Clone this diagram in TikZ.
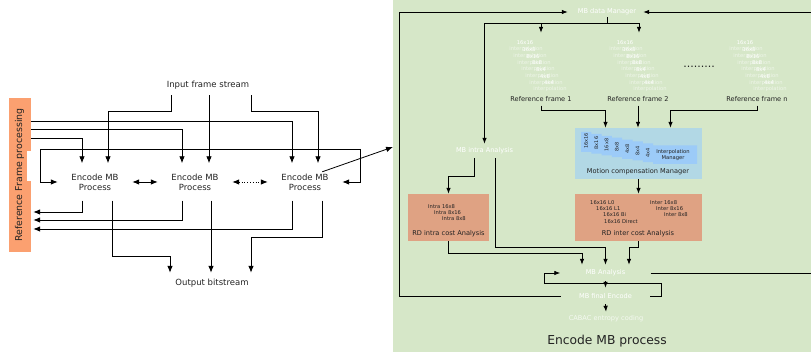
\documentclass[tikz,border=0pt]{standalone}
\usepackage{fontspec}
\setmainfont{DejaVu Sans}
\usetikzlibrary{arrows.meta}
\definecolor{panelgreen}{HTML}{D6E7C8}
\definecolor{leftorange}{HTML}{FBA070}
\definecolor{rdsalmon}{HTML}{DFA283}
\definecolor{mcouter}{HTML}{B2D8E5}
\definecolor{mcinner}{HTML}{9CCBF8}
\definecolor{ink}{HTML}{222222}
\newcommand\myfs[2]{\fontsize{#1}{#2}\selectfont}
\tikzset{
  arr/.style={-{Latex[length=6pt,width=4.5pt]}, line width=0.8pt},
  larr/.style={-{Latex[length=7pt,width=5.5pt]}, line width=0.8pt},
  dblarr/.style={{Latex[length=7pt,width=5.5pt]}-{Latex[length=7pt,width=5.5pt]}, line width=0.8pt},
  ln/.style={line width=0.8pt},
  ltxt/.style={font={\myfs{8.5}{10}}, text=ink, inner sep=0pt},
  enc/.style={ltxt, align=center, minimum width=74pt, minimum height=37pt},
  wtxt/.style={font={\myfs{6.6}{7}}, text=white, inner sep=0pt},
  btxt/.style={font={\myfs{6.6}{7}}, text=ink, inner sep=0pt},
  smalltxt/.style={font={\myfs{5.2}{6}}, text=ink, inner sep=0pt},
  stk/.style={font={\myfs{5.2}{6}}, text=white, inner sep=0pt},
  rdbox/.style={fill=rdsalmon, inner sep=0pt},
}
\begin{document}
\begin{tikzpicture}[x=1pt,y=-1pt]
\useasboundingbox (0,0) rectangle (811,352);

% ---------------- left part ----------------
\node[ltxt, minimum height=20pt] (ifs) at (208,85) {Input frame stream};
\node[enc] (e1) at (95,182) {Encode MB\\Process};
\node[enc] (e2) at (195,182) {Encode MB\\Process};
\node[enc] (e3) at (305,182) {Encode MB\\Process};
\node[ltxt, minimum height=20pt] (ob) at (212,283) {Output bitstream};
\node[fill=leftorange, minimum width=22pt, minimum height=154pt, inner sep=0pt] (rfp) at (20,175) {};
\fill[white] (27,151) rectangle (31.5,181);
\node[font={\myfs{9.4}{10}}, text=ink, rotate=90, inner sep=0pt] (rfpt) at (19.5,175) {Reference Frame processing};

% inputs
\draw[larr] ([xshift=-37pt]ifs.south) -- ++(0,16) -| ([xshift=13pt]e1.north);
\draw[larr] ([xshift=1pt]ifs.south) -- ([xshift=14pt]e2.north);
\draw[larr] ([xshift=43pt]ifs.south) -- ++(0,16) -| ([xshift=13pt]e3.north);
\draw[larr] (rfp.east |- 0,121) -| ([xshift=-13pt]e3.north);
\draw[larr] (rfp.east |- 0,129) -| ([xshift=-13pt]e2.north);
\draw[larr] (rfp.east |- 0,138) -| ([xshift=-13pt]e1.north);
% feedback loop
\coordinate (fb) at (360,149);
\draw[larr] (fb) |- (e3.east);
\draw[larr] (fb) -- (40,149) |- (e1.west);
% between processes
\draw[dblarr] (e1.east) -- (e2.west);
\draw[dblarr, dotted] (e2.east) -- (e3.west);
% outputs to reference frame processing
\draw[larr] ([xshift=-13pt]e1.south) |- ([xshift=2pt]rfp.east |- 0,212);
\draw[larr] ([xshift=-13pt]e2.south) |- ([xshift=2pt]rfp.east |- 0,220);
\draw[larr] ([xshift=-13pt]e3.south) |- ([xshift=2pt]rfp.east |- 0,229);
% outputs to bitstream
\draw[larr] ([xshift=17pt]e1.south) |- ([xshift=-42pt]ob.north |- 0,256) -- ([xshift=-42pt]ob.north);
\draw[larr] ([xshift=16pt]e2.south) -- ([xshift=-1pt]ob.north);
\draw[larr] ([xshift=17pt]e3.south) |- ([xshift=39pt]ob.north |- 0,237) -- ([xshift=39pt]ob.north);

% ---------------- right panel ----------------
\node[fill=panelgreen, minimum width=418pt, minimum height=352pt, inner sep=0pt, anchor=north west] (panel) at (393,0) {};
\draw[larr] ([xshift=-20pt,yshift=-8.5pt]e3.north east) -- (panel.west |- 0,147);

\node[wtxt, minimum width=75pt, minimum height=10pt] (mbdm) at (605.5,12) {\hspace{3pt}MB data Manager};

% reference frame stacks (invisible holders)
\node[minimum width=44pt, minimum height=62pt, inner sep=0pt] (rs1) at (541,64) {};
\node[minimum width=44pt, minimum height=62pt, inner sep=0pt] (rs2) at (639,64) {};
\node[minimum width=44pt, minimum height=62pt, inner sep=0pt] (rsn) at (758,64) {};
\foreach \bx [count=\j] in {525,625,745} {
  \foreach \s [count=\k from 0] in {16x16,16x8,8x16,8x8,8x4,4x8,4x4} {
    \node[stk] (sz\j-\k) at ({\bx+4*\k},{43+6.67*\k}) {\s};
    \node[stk, opacity=0.6] (ip\j-\k) at ({\bx+1+4*\k},{49.5+6.67*\k}) {interpolation};
  }
}
\node[font={\myfs{11}{12}}, text=ink, inner sep=0pt] (dots) at (699,67) {.........};

\node[btxt, minimum height=13pt] (rf1) at (541,99) {Reference frame 1};
\node[btxt, minimum height=13pt] (rf2) at (638,99) {Reference frame 2};
\node[btxt, minimum height=13pt] (rfn) at (757,99) {Reference frame n};

% motion compensation manager
\node[fill=mcouter, minimum width=127pt, minimum height=51pt, inner sep=0pt] (mc) at (638.5,153.5) {};
\fill[mcinner] (581,132) -- (591.3,132) -- (591.3,133.9) -- (601.6,133.9) -- (601.6,135.8) -- (611.9,135.8)
  -- (611.9,137.7) -- (622.2,137.7) -- (622.2,139.6) -- (632.5,139.6) -- (632.5,141.5) -- (642.8,141.5)
  -- (642.8,143.4) -- (653.1,143.4) -- (653.1,145.3) -- (697,145.3) -- (697,164) -- (653.1,164)
  -- (653.1,162.2) -- (642.8,162.2) -- (642.8,160.5) -- (632.5,160.5) -- (632.5,158.8) -- (622.2,158.8)
  -- (622.2,157.1) -- (611.9,157.1) -- (611.9,155.4) -- (601.6,155.4) -- (601.6,153.7) -- (591.3,153.7)
  -- (591.3,152) -- (581,152) -- cycle;
\foreach \s [count=\k from 0] in {16x16,8x16,16x8,8x8,4x8,8x4,4x4} {
  \node[smalltxt, font={\myfs{5}{6}}, rotate=90] (mcs\k) at ({586+10.3*\k},{141+2*\k}) {\s};
}
\node[smalltxt, align=center] (im) at (673,155) {Interpolation\\Manager};
\node[btxt] (mct) at (638,172) {Motion compensation Manager};

% RD inter
\node[rdbox, minimum width=127pt, minimum height=47pt] (rdi) at (638.5,217.5) {};
\node[smalltxt, anchor=west] (t1) at (590,203) {16x16 L0};
\node[smalltxt, anchor=west] (t2) at (596,209) {16x16 L1};
\node[smalltxt, anchor=west] (t3) at (603,214.5) {16x16 Bi};
\node[smalltxt, anchor=west] (t4) at (604,221.5) {16x16 Direct};
\node[smalltxt, anchor=west] (t5) at (650,203) {Inter 16x8};
\node[smalltxt, anchor=west] (t6) at (656,209) {Inter 8x16};
\node[smalltxt, anchor=west] (t7) at (664,215) {Inter 8x8};
\node[btxt] (rdit) at (638,234) {RD inter cost Analysis};

% RD intra
\node[rdbox, minimum width=81pt, minimum height=47pt] (rda) at (448.5,217.5) {};
\node[smalltxt, anchor=west] (a1) at (428,207) {Intra 16x8};
\node[smalltxt, anchor=west] (a2) at (434,213) {Intra 8x16};
\node[smalltxt, anchor=west] (a3) at (442,219) {Intra 8x8};
\node[btxt] (rdat) at (448.5,234) {RD intra cost Analysis};

\node[wtxt, minimum height=14pt] (mbia) at (484.5,151) {MB intra Analysis};
\node[wtxt, minimum width=90pt, minimum height=16pt] (mban) at (605.5,273) {MB Analysis};
\node[wtxt, minimum width=89pt, minimum height=16pt] (mbfe) at (605.5,296) {MB final Encode};
\node[wtxt, minimum height=14pt, opacity=0.75] (cabac) at (606,319) {CABAC entropy coding};
\node[font={\myfs{12.3}{13}}, text=ink, inner sep=0pt] (title) at (607,341) {Encode MB process};

% right panel connectors (the right-hand riser runs just outside the page)
\draw[arr] (mbfe.west) -| (399,12) -- (mbdm.west);
\draw[arr] (mban.east) -- (814,273) -- (814,12) -- (mbdm.east);
\draw[ln] ([xshift=1.5pt]mbdm.south) -- ++(0,6) coordinate (j1);
\draw[arr] (j1) -| (rs1.north);
\draw[arr] (j1) -| (rs2.north);
\draw[arr] (rs1.north |- j1) -| (mbia.north);
\draw[arr] (rf1.south) -- ++(0,5) -| ([xshift=-33pt]mc.north);
\draw[arr] (rf2.south) -- (rf2.south |- mc.north);
\draw[arr] (rfn.south) -- ++(0,5) -| ([xshift=32pt]mc.north);
\draw[arr] (mc.south) -- (rdi.north);
\draw[arr] ([xshift=-10pt]mbia.south) -- ++(0,18) -| (rda.north);
\draw[arr] ([xshift=11pt]mbia.south) |- (mban.north |- 0,247) -- (mban.north);
\draw[arr] (rda.south) -- ++(0,12) -| ([xshift=-23.5pt]mban.north);
\draw[arr] (rdi.south) -- ++(0,6) -| ([xshift=23.5pt]mban.north);
\draw[arr] (mban.south) -- (mbfe.north);
\draw[arr] (mbfe.east) -- ++(11,0) -- ++(0,-13) -- ++(-117,0) -- ++(0,-10) -- (mban.west);
\draw[arr] (mbfe.south) -- (cabac.north);
\end{tikzpicture}
\end{document}
